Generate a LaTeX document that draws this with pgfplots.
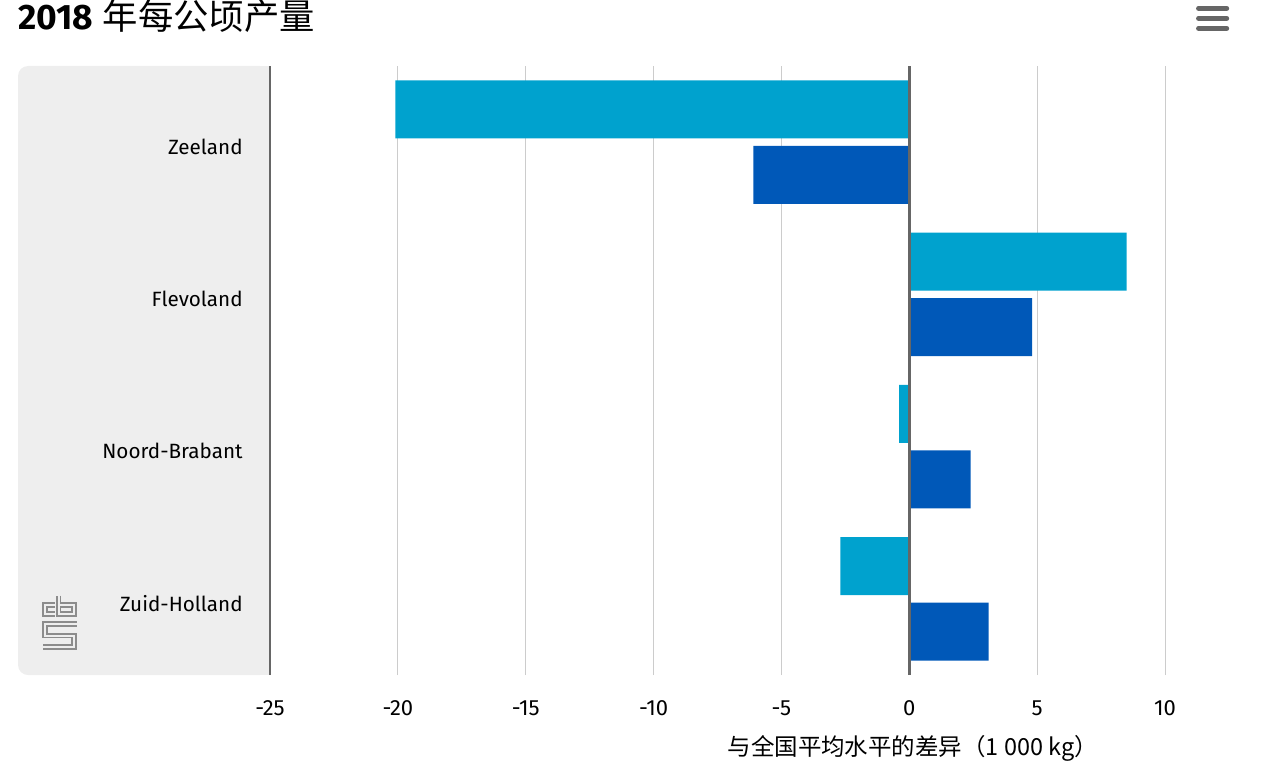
\documentclass[border=0pt]{standalone}
\usepackage{pgfplots}
\pgfplotsset{compat=1.18}
\usepackage{fontspec}
\setmainfont{Fira Sans}
\newfontfamily\cjk{Noto Sans CJK SC}
\definecolor{lightb}{HTML}{00A2CE}
\definecolor{darkb}{HTML}{0058B8}
\definecolor{axgray}{HTML}{666666}
\definecolor{gridg}{HTML}{CCCCCC}
\definecolor{panel}{HTML}{EEEEEE}
\definecolor{logog}{HTML}{8C8C8C}
\begin{document}
\begin{tikzpicture}
\useasboundingbox (0,0) rectangle (949.5pt,-585.75pt);
% panel
\fill[panel, rounded corners=7.5pt] (13.5pt,-49.5pt) rectangle (202.5pt,-506.25pt);
\fill[panel] (100pt,-49.5pt) rectangle (202.5pt,-506.25pt);
% title
\node[anchor=base west, inner sep=0pt] at (13.5pt,-22.5pt) {\fontsize{26.5}{30}\selectfont{\bfseries 2018} {\cjk 年每公顷产量}};
% menu icon
\foreach \yy in {6.25,13.75,21.25}{
  \draw[axgray, line width=3.75pt, line cap=round] (898.9pt,-\yy pt) -- (920pt,-\yy pt);
}
% logo
\begin{scope}[x=0.75pt,y=-0.75pt]
\foreach \w/\c in {4.3pt/logog,1.5pt/panel}{
  \draw[\c, line width=\w] (55,605.2) -- (45.2,605.2) -- (45.2,614.2) -- (55,614.2);
  \draw[\c, line width=\w] (58.5,595.5) -- (58.5,614.2) -- (74.2,614.2) -- (74.2,605.2) -- (58.5,605.2);
  \draw[\c, line width=\w] (76.7,624.2) -- (45.2,624.2) -- (45.2,635.5) -- (74.2,635.5) -- (74.2,646.8) -- (42.7,646.8);
}
\end{scope}
\begin{axis}[
  at={(202.5pt,-49.5pt)}, anchor=north west,
  scale only axis, width=671.25pt, height=456.75pt,
  xbar, bar width=0.38,
  xmin=-25, xmax=10, ymin=-0.5, ymax=3.5,
  xtick={-25,-20,...,10},
  ytick={0,1,2,3},
  yticklabels={Zuid-Holland,Noord-Brabant,Flevoland,Zeeland},
  major tick length=0pt,
  axis line style={draw=none},
  xmajorgrids, grid style={gridg, line width=0.75pt},
  /pgf/number format/assume math mode=true,
  xticklabel style={font=\fontsize{16.5}{19}\selectfont, yshift=-16pt},
  yticklabel style={font=\fontsize{15.5}{18}\selectfont, xshift=-17pt, yshift=-3.5pt},
  clip=false,
]
\addplot[fill=lightb, draw=none, bar shift=0.215] coordinates {(-2.7,0) (-0.4,1) (8.5,2) (-20.1,3)};
\addplot[fill=darkb, draw=none, bar shift=-0.215] coordinates {(3.1,0) (2.4,1) (4.8,2) (-6.1,3)};
\draw[axgray, line width=1.5pt] (rel axis cs:0,0) -- (rel axis cs:0,1);
\draw[axgray, line width=2.25pt] (axis cs:0,-0.5) -- (axis cs:0,3.5);
\end{axis}
\node[anchor=center] at (684.5pt,-561pt) {\cjk\fontsize{17.6}{21}\selectfont 与全国平均水平的差异（1 000 kg）};
\end{tikzpicture}
\end{document}
